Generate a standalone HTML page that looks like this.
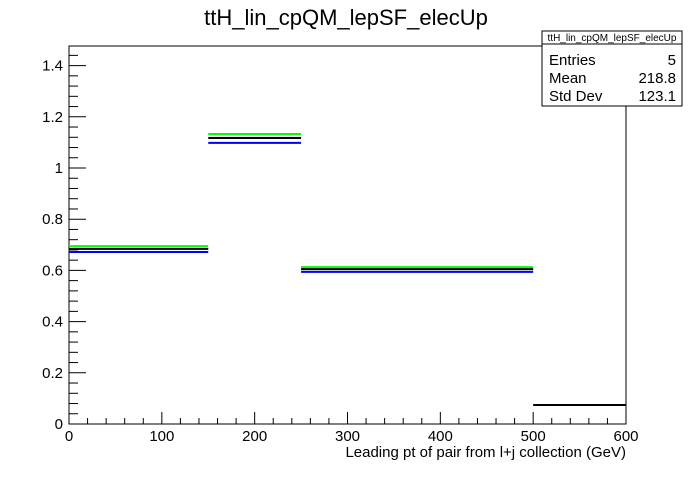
<!DOCTYPE html>
<html><head><meta charset="utf-8"><style>
body{margin:0;background:#fff;font-family:"Liberation Sans",sans-serif}
</style></head><body>
<svg width="696" height="472" xmlns="http://www.w3.org/2000/svg" font-family="Liberation Sans, sans-serif">
<rect width="696" height="472" fill="#fff"/>
<text x="346" y="25" font-size="22" text-anchor="middle">ttH_lin_cpQM_lepSF_elecUp</text>
<rect x="69" y="46" width="557" height="378" fill="none" stroke="#000" stroke-width="1"/>
<g id="axes"></g>
<g id="series"></g>
<text x="626" y="457" font-size="15" text-anchor="end">Leading pt of pair from l+j collection (GeV)</text>
<g>
<rect x="542" y="31" width="140" height="75" fill="#fff" stroke="#000"/>
<line x1="542" y1="44" x2="682" y2="44" stroke="#000"/>
<text x="612" y="41" font-size="10" text-anchor="middle">ttH_lin_cpQM_lepSF_elecUp</text>
<text x="549" y="65" font-size="15">Entries</text><text x="676" y="65" font-size="15" text-anchor="end">5</text>
<text x="549" y="83" font-size="15">Mean</text><text x="676" y="83" font-size="15" text-anchor="end">218.8</text>
<text x="549" y="101" font-size="15">Std Dev</text><text x="676" y="101" font-size="15" text-anchor="end">123.1</text>
</g>
</svg>
<script>
const binEdges=[0,150,250,500,600];
const greenVals=[0.695,1.133,0.613,0];
const blackVals=[0.684,1.117,0.605,0.074];
const blueVals=[0.672,1.098,0.594,0];
const xTicks=[0,100,200,300,400,500,600];
const yTicks=[0,0.2,0.4,0.6,0.8,1,1.2,1.4];
const NS="http://www.w3.org/2000/svg";
const X=v=>69+v*(557/600);
const Y=v=>424-v*256;
function mk(tag,at,parent){const e=document.createElementNS(NS,tag);for(const k in at)e.setAttribute(k,at[k]);parent.appendChild(e);return e;}
const ax=document.getElementById('axes');
for(let v=0;v<=600.001;v+=20){const major=Math.abs(v%100)<0.01;
const l=mk('line',{x1:X(v),x2:X(v),y1:424,y2:424-(major?12:6),stroke:'#000'},ax);

}
xTicks.forEach(v=>{const t=mk('text',{x:X(v),y:441,'font-size':15,'text-anchor':'middle'},ax);t.textContent=v;

});
for(let i=0;i<=36;i++){const v=i*0.04;if(Y(v)<46)break;const major=i%5==0;
const l=mk('line',{x1:69,x2:69+(major?17:9),y1:Y(v),y2:Y(v),stroke:'#000'},ax);

}
yTicks.forEach(v=>{const t=mk('text',{x:63,y:Y(v)+5,'font-size':15,'text-anchor':'end'},ax);t.textContent=String(+v.toFixed(1));

});
const sg=document.getElementById('series');
[[greenVals,'#00ff00','green'],[blueVals,'#0000ff','blue'],[blackVals,'#000','black']].forEach(([vals,c,n])=>{
vals.forEach((v,i)=>{if(v<=0)return;
const l=mk('line',{x1:X(binEdges[i]),x2:X(binEdges[i+1]),y1:Y(v),y2:Y(v),stroke:c,'stroke-width':2},sg);

});});
</script>
</body></html>
